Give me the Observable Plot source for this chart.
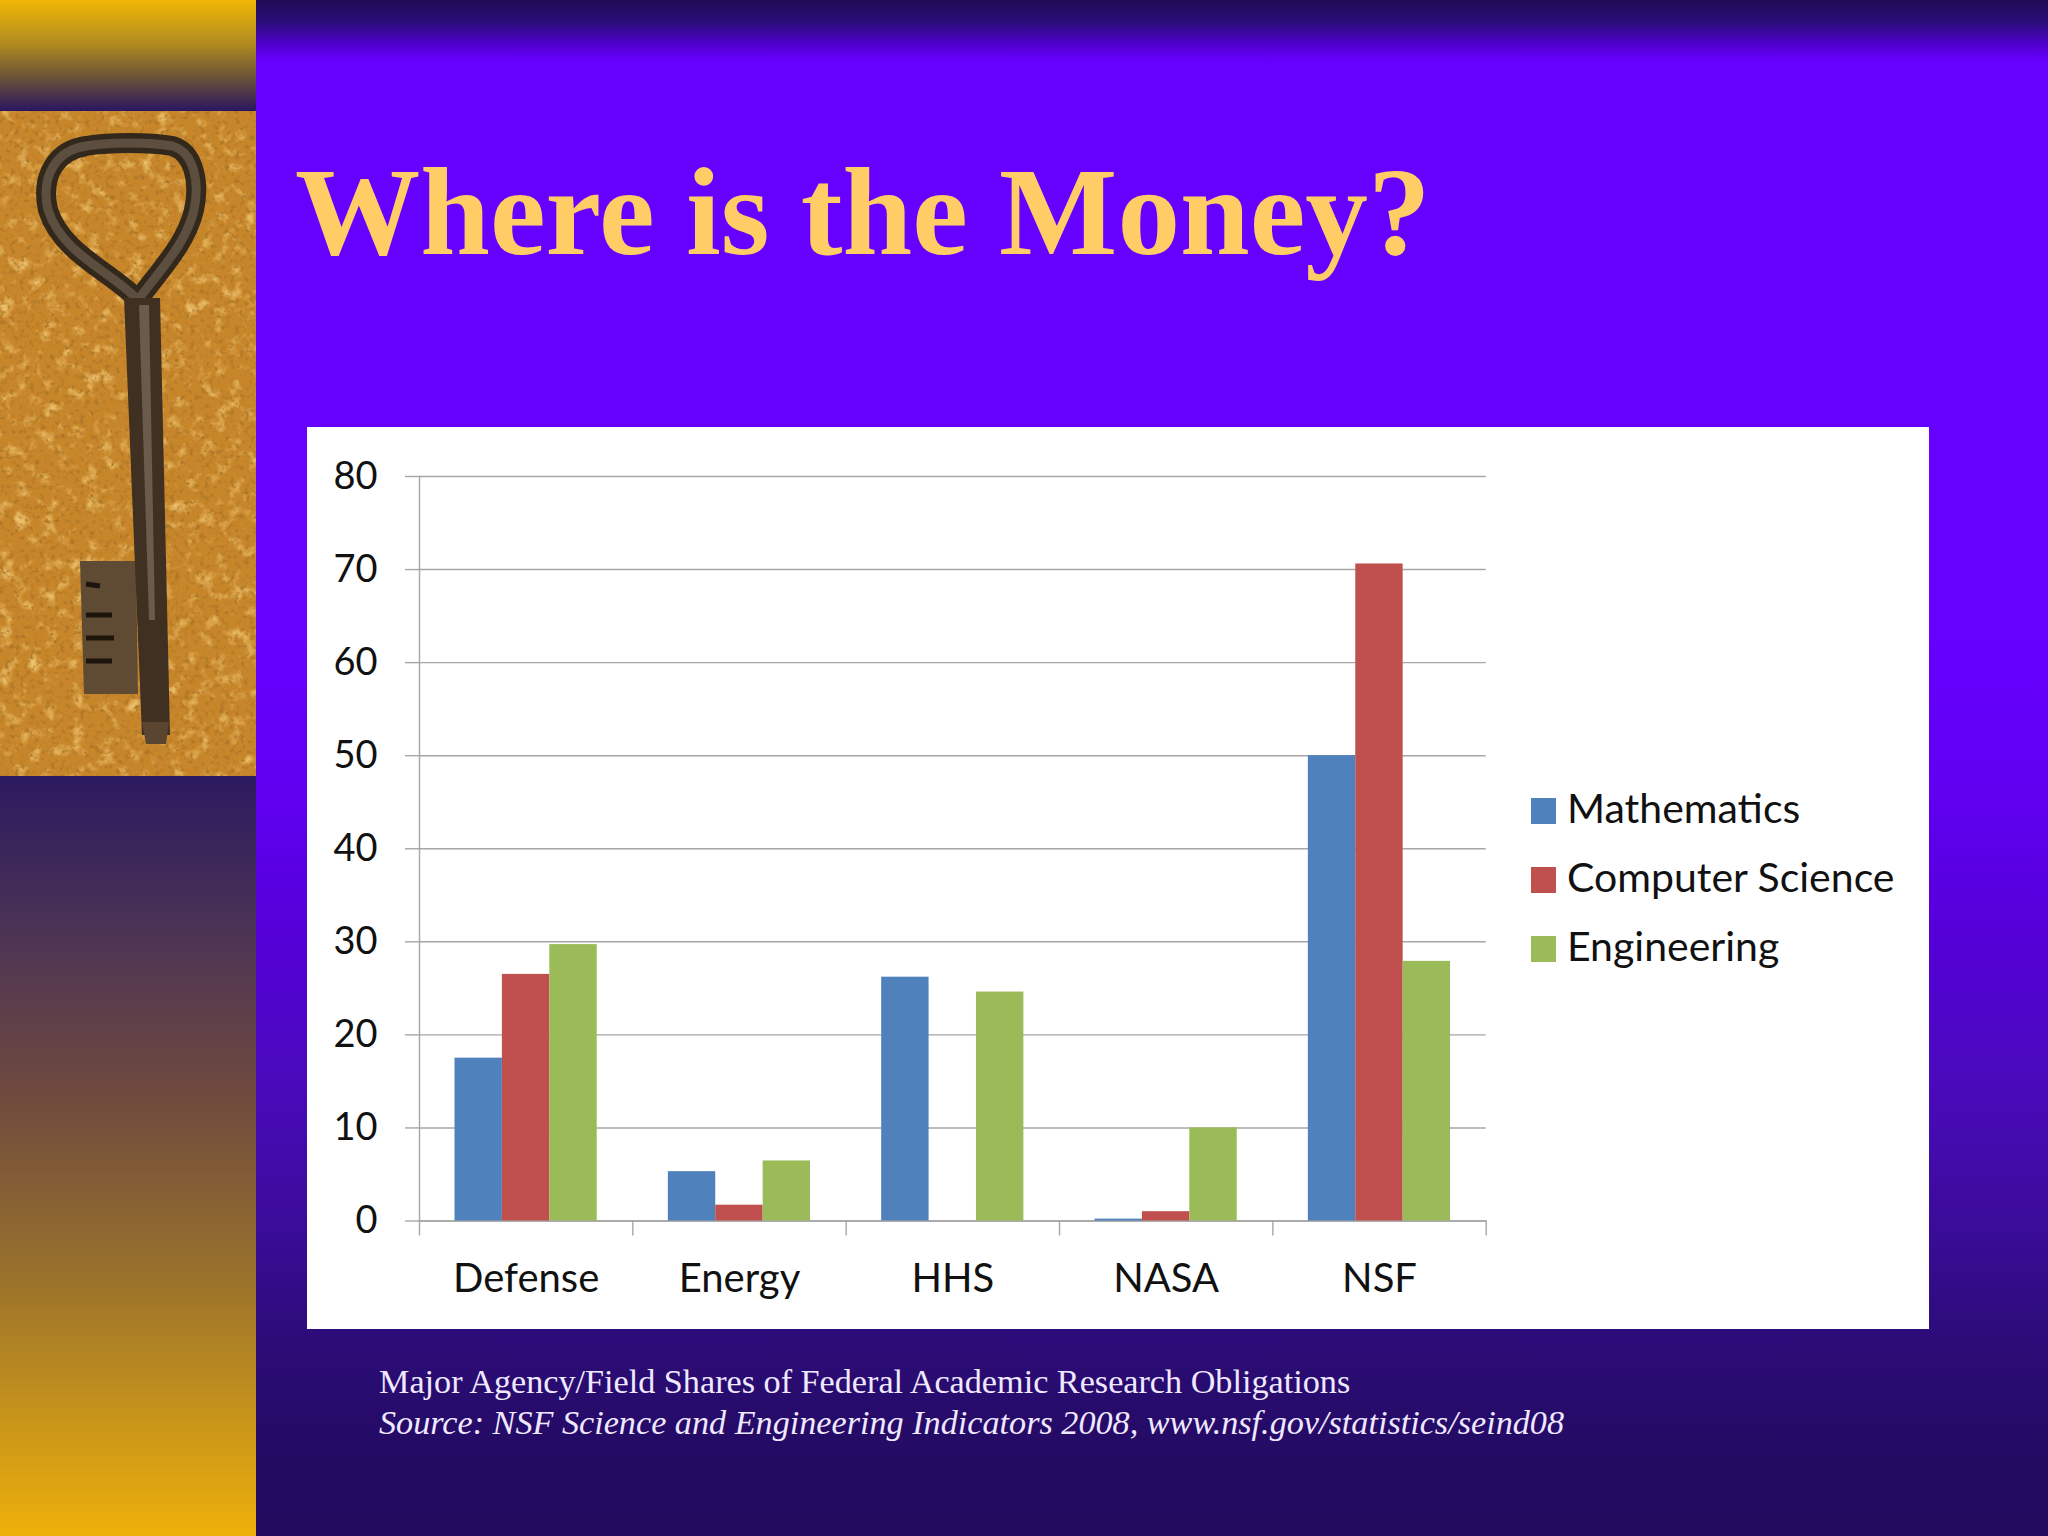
<!DOCTYPE html>
<html>
<head>
<meta charset="utf-8">
<script src="https://cdn.jsdelivr.net/npm/d3@7"></script>
<script src="https://cdn.jsdelivr.net/npm/@observablehq/plot@0.6"></script>
<style>
html,body{margin:0;padding:0;background:#210b5e;}
#slide{position:relative;width:2048px;height:1536px;overflow:hidden;
  background:linear-gradient(180deg,#1f0c57 0px,#2a0d78 22px,#5200d0 45px,#6600ff 62px,#6600ff 640px,#5f00f0 800px,#5500d8 930px,#4a0abc 1080px,#3a0c98 1230px,#2c0c78 1340px,#230b62 1460px,#210b5e 1536px);}
#sideTop{position:absolute;left:0;top:0;width:256px;height:111px;background:linear-gradient(180deg,#f2b705 0%,#b08a20 40%,#6a5238 70%,#2a1660 100%);}
#sideBottom{position:absolute;left:0;top:776px;width:256px;height:760px;background:linear-gradient(180deg,#2c1a60 0%,#4b3355 20%,#6f4a3e 42%,#97702c 65%,#c9951a 85%,#eeb00a 100%);}
#keyArt{position:absolute;left:0;top:111px;width:256px;height:665px;display:block;}
#title{position:absolute;left:295px;top:137px;font:bold 125.3px/150px "Liberation Serif",serif;color:#ffcc66;white-space:nowrap;}
#chart{position:absolute;left:307px;top:427px;width:1622px;height:902px;background:#fff;}
#chart svg{display:block;}
#legend{position:absolute;left:1531px;top:773px;font:41px/69px Lato,sans-serif;color:#111;}
.item{display:flex;align-items:center;height:69px;white-space:nowrap;}
.swatch{width:25px;height:26px;margin-right:11px;flex:none;position:relative;top:3px;}
#caption{position:absolute;left:379px;top:1362px;font:34.2px/40.5px "Liberation Serif",serif;color:#efe8ff;white-space:nowrap;}
#caption i{display:block;}
</style>
</head>
<body>
<div id="slide">
  <div id="sideTop"></div>
  <svg id="keyArt" viewBox="0 111 256 665" xmlns="http://www.w3.org/2000/svg">
    <defs>
      <filter id="sand" x="0" y="0" width="100%" height="100%">
        <feTurbulence type="fractalNoise" baseFrequency="0.2" numOctaves="3" seed="7"/>
        <feColorMatrix type="matrix" values="0 0 0 0 0.42  0 0 0 0 0.18  0 0 0 0 0.02  3.6 0 0 0 -1.9"/>
      </filter>
      <filter id="sandLight" x="0" y="0" width="100%" height="100%">
        <feTurbulence type="fractalNoise" baseFrequency="0.07" numOctaves="3" seed="21"/>
        <feColorMatrix type="matrix" values="0 0 0 0 0.93  0 0 0 0 0.66  0 0 0 0 0.22  2.2 0 0 0 -1.15"/>
      </filter>
    </defs>
    <rect x="0" y="111" width="256" height="665" fill="#c8862a"/>
    <rect x="0" y="111" width="256" height="665" filter="url(#sandLight)"/>
    <rect x="0" y="111" width="256" height="665" filter="url(#sand)"/>
    <g fill="none" stroke-linecap="round" stroke-linejoin="round">
      <path d="M138 300 C112 272 62 254 48 210 C40 174 58 150 86 146 C110 142 150 142 172 146 C194 152 200 182 194 210 C186 244 160 270 138 300 Z" stroke="#33281c" stroke-width="20"/>
      <path d="M138 300 C112 272 62 254 48 210 C40 174 58 150 86 146 C110 142 150 142 172 146 C194 152 200 182 194 210 C186 244 160 270 138 300 Z" stroke="#5c4f40" stroke-width="9"/>
    </g>
    <path d="M80 561 L136 561 L138 694 L84 694 Z" fill="#5f4a33"/>
    <path d="M86 584 L100 586 M86 615 L112 615 M86 638 L114 638 M86 661 L112 661" stroke="#1d140b" stroke-width="5" fill="none"/>
    <path d="M124 298 L160 298 L170 735 L142 735 Z" fill="#3f3022"/>
    <path d="M139 305 L149 305 L155 620 L149 620 Z" fill="#6a5c4c"/>
    <path d="M142 722 L169 722 L166 744 L146 744 Z" fill="#5a4630"/>
  </svg>
  <div id="sideBottom"></div>
  <div id="title">Where is the Money?</div>
  <div id="chart"></div>
  <div id="legend"></div>
  <div id="caption">Major Agency/Field Shares of Federal Academic Research Obligations<i>Source: NSF Science and Engineering Indicators 2008, www.nsf.gov/statistics/seind08</i></div>
</div>
<script>
const categories = ["Defense", "Energy", "HHS", "NASA", "NSF"];
const mathematics = [17.5, 5.3, 26.2, 0.2, 50];
const computerScience = [26.5, 1.7, 0, 1.0, 70.6];
const engineering = [29.7, 6.45, 24.6, 10, 27.9];
const yTicks = [0, 10, 20, 30, 40, 50, 60, 70, 80];
const seriesNames = ["Mathematics", "Computer Science", "Engineering"];
const seriesColors = ["#4f81bd", "#c0504d", "#9bbb59"];
const lastCategory = ["NSF"];

const axisColor = "#a6a6a6";
const textColor = "#111";
const font = "Lato, sans-serif";

const chart = Plot.plot({
  width: 1622,
  height: 902,
  marginLeft: 112,
  marginRight: 443.3,
  marginTop: 49,
  marginBottom: 108.5,
  style: {background: "#fff", fontFamily: font, overflow: "visible"},
  x: {type: "band", domain: categories, padding: 0, round: false, axis: null},
  y: {domain: [0, 80], axis: null},
  marks: [
    Plot.gridY(yTicks, {stroke: axisColor, strokeOpacity: 1, strokeWidth: 1.4}),
    Plot.axisY(yTicks, {anchor: "left", tickSize: 14, tickPadding: 28, fontSize: 38, stroke: axisColor, strokeWidth: 1.4, fill: textColor, label: null}),
    Plot.frame({anchor: "left", stroke: axisColor, strokeWidth: 1.4}),
    Plot.axisX(categories, {anchor: "bottom", tickSize: 15, dx: -106.67, text: null, stroke: axisColor, strokeWidth: 1.4, label: null}),
    Plot.axisX(lastCategory, {anchor: "bottom", tickSize: 15, dx: 106.67, text: null, stroke: axisColor, strokeWidth: 1.4, label: null}),
    Plot.frame({anchor: "bottom", stroke: axisColor, strokeWidth: 1.4}),
    Plot.axisX(categories, {anchor: "bottom", tickSize: 0, tickPadding: 43, fontSize: 40, fill: textColor, label: null}),
    Plot.barY(mathematics, {x: categories, y: mathematics, fill: seriesColors[0], insetLeft: 35.5, insetRight: 130.44}),
    Plot.barY(computerScience, {x: categories, y: computerScience, fill: seriesColors[1], insetLeft: 82.9, insetRight: 83.04}),
    Plot.barY(engineering, {x: categories, y: engineering, fill: seriesColors[2], insetLeft: 130.3, insetRight: 35.64})
  ]
});
document.getElementById("chart").append(chart);

const legend = document.getElementById("legend");
seriesNames.forEach((name, i) => {
  const row = document.createElement("div");
  row.className = "item";
  const sw = document.createElement("span");
  sw.className = "swatch";
  sw.style.background = seriesColors[i];
  const label = document.createElement("span");
  label.textContent = name;
  row.append(sw, label);
  legend.append(row);
});
</script>
</body>
</html>
